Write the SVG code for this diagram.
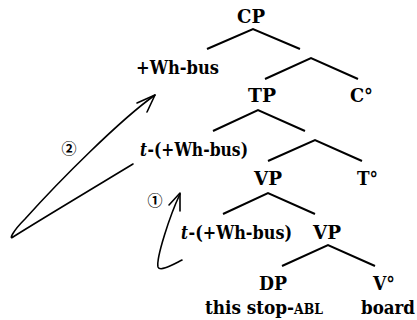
<svg xmlns="http://www.w3.org/2000/svg" width="417" height="320" viewBox="0 0 417 320">
  <style>
    .lbl { font-family: 'DejaVu Serif', 'Liberation Serif', serif; font-weight: bold; font-size: 19px; fill: #000; }
    .it { font-style: italic; }
    .sc { font-size: 14px; }
    .num { font-family: 'Noto Sans CJK JP', 'DejaVu Sans', sans-serif; font-size: 15px; font-weight: bold; text-anchor: middle; fill: #000; }
    .branch { stroke: #000; stroke-width: 2; fill: none; stroke-linecap: butt; }
    .move { stroke: #000; stroke-width: 1.6; fill: none; stroke-linecap: round; stroke-linejoin: round; }
  </style>
  <rect width="417" height="320" fill="#fff"/>

  <!-- tree branches -->
  <g id="branches">
    <polyline class="branch" points="207,49 253,29 300,49"/>
    <polyline class="branch" points="265,79 311,58 358,79"/>
    <polyline class="branch" points="213,131 258,110 305,131"/>
    <polyline class="branch" points="268,161 315,140 362,161"/>
    <polyline class="branch" points="223,214 268,193 315,214"/>
    <polyline class="branch" points="282,266 328,245 375,266"/>
  </g>

  <!-- tree labels, squeezed to Times-like widths -->
  <g id="cp"><text class="lbl" x="237" y="23" textLength="28" lengthAdjust="spacingAndGlyphs">CP</text></g>
  <g id="wh"><text class="lbl" x="136" y="74" textLength="83" lengthAdjust="spacingAndGlyphs">+Wh-bus</text></g>
  <g id="tp"><text class="lbl" x="248" y="102" textLength="28" lengthAdjust="spacingAndGlyphs">TP</text></g>
  <g id="c0"><text class="lbl" x="350" y="102" textLength="23" lengthAdjust="spacingAndGlyphs">C°</text></g>
  <g id="trace2">
    <text class="lbl it" x="140" y="156" textLength="7" lengthAdjust="spacingAndGlyphs">t</text>
    <text class="lbl" x="147.5" y="156" textLength="100.5" lengthAdjust="spacingAndGlyphs">-(+Wh-bus)</text>
  </g>
  <g id="vp1"><text class="lbl" x="254" y="185" textLength="28" lengthAdjust="spacingAndGlyphs">VP</text></g>
  <g id="t0"><text class="lbl" x="357" y="185" textLength="21" lengthAdjust="spacingAndGlyphs">T°</text></g>
  <g id="trace1">
    <text class="lbl it" x="181" y="239" textLength="7" lengthAdjust="spacingAndGlyphs">t</text>
    <text class="lbl" x="188.5" y="239" textLength="103.5" lengthAdjust="spacingAndGlyphs">-(+Wh-bus)</text>
  </g>
  <g id="vp2"><text class="lbl" x="313" y="239" textLength="28" lengthAdjust="spacingAndGlyphs">VP</text></g>
  <g id="dp"><text class="lbl" x="259" y="290" textLength="28" lengthAdjust="spacingAndGlyphs">DP</text></g>
  <g id="v0"><text class="lbl" x="373" y="290" textLength="22" lengthAdjust="spacingAndGlyphs">V°</text></g>
  <g id="dp-word"><text class="lbl" x="205" y="314" textLength="118" lengthAdjust="spacingAndGlyphs">this stop-<tspan class="sc">ABL</tspan></text></g>
  <g id="v-word"><text class="lbl" x="361" y="314" textLength="54" lengthAdjust="spacingAndGlyphs">board</text></g>

  <!-- movement arrows -->
  <g id="connectors">
    <path class="move" d="M133,164 C90,190 30,226 13,237 C9,240 12,232 25,219 C60,180 120,120 155,95"/>
    <polyline class="move" points="137,103 155,95 147,112"/>
    <path class="move" d="M182,260 C172,265 160,272 158,267 C156,258 170,215 180,194"/>
    <polyline class="move" points="169,205 180,193 180,211"/>
  </g>

  <g id="step2"><text class="num" x="69" y="153.5">②</text></g>
  <g id="step1"><text class="num" x="155" y="205.5">①</text></g>
</svg>
